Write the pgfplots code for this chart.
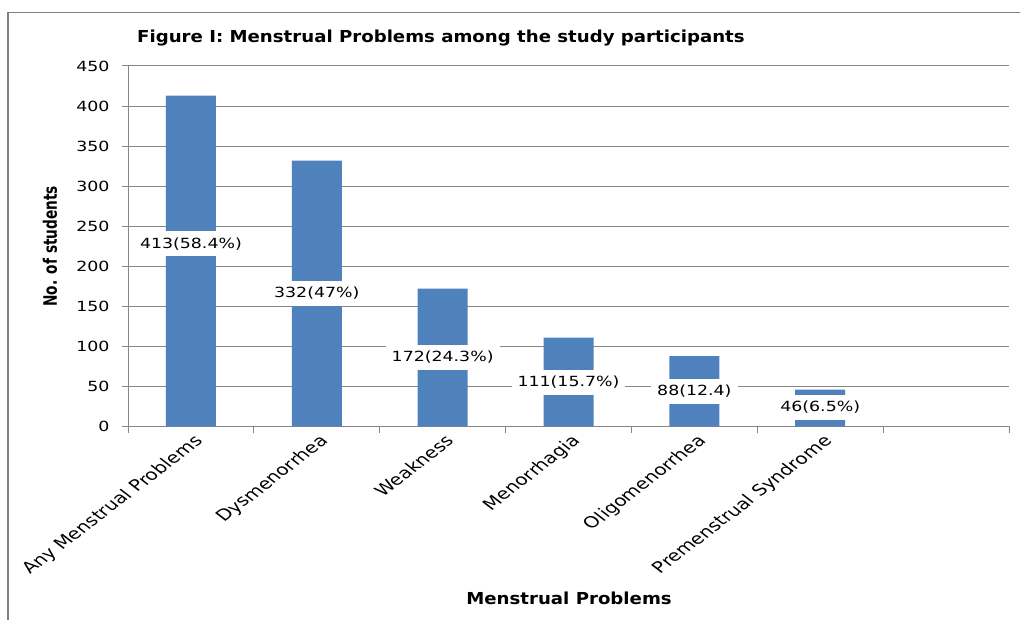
\documentclass[border=0pt]{standalone}
\usepackage{pgfplots}
\pgfplotsset{compat=1.18}
\usepackage{fontspec}
\setmainfont{DejaVu Sans}
\newfontfamily\lblfont[FakeStretch=1.24]{DejaVu Sans}
\newfontfamily\ttlfont[FakeStretch=1.1]{DejaVu Sans}
\newfontfamily\ylabfont[FakeStretch=0.74]{DejaVu Sans}

\definecolor{barblue}{RGB}{79,129,189}
\definecolor{gridgray}{RGB}{134,134,134}
\definecolor{framegray}{RGB}{128,128,128}

\begin{document}
\begin{tikzpicture}
\begin{axis}[
  at={(128bp,193.5bp)}, anchor=south west,
  scale only axis, width=881bp, height=360.5bp,
  xmin=-0.5, xmax=6.5, ymin=0, ymax=450,
  axis lines*=left,
  axis line style={gridgray, line width=1bp},
  tick style={gridgray, line width=1bp},
  tick align=outside,
  major tick length=6bp,
  ytick={0,50,...,450},
  ymajorgrids,
  major grid style={gridgray, line width=1bp},
  xtick={-0.5,0.5,...,6.5},
  xticklabels={},
  extra x ticks={0,1,2,3,4,5},
  extra x tick labels={Any Menstrual Problems, Dysmenorrhea, Weakness, Menorrhagia, Oligomenorrhea, Premenstrual Syndrome},
  extra x tick style={major tick length=0pt},
  xticklabel style={font=\fontsize{15.5bp}{17bp}\selectfont, xscale=1.3, rotate=45, anchor=north east, inner sep=2bp, yshift=-4bp, xshift=-2bp},
  yticklabel style={font=\lblfont\fontsize{14bp}{16bp}\selectfont, xshift=-9bp},
  /pgf/number format/assume math mode=true,
  title={\ttlfont\bfseries Figure I: Menstrual Problems among the study participants},
  title style={font=\fontsize{16.5bp}{19bp}\selectfont, anchor=base west, at={(axis description cs:0.0102,1.0485)}, inner sep=0pt},
  xlabel={\ttlfont\bfseries Menstrual Problems},
  xlabel style={font=\fontsize{16.5bp}{19bp}\selectfont, at={(axis description cs:0.5006,-0.477)}, anchor=center},
  ylabel={\ylabfont\bfseries No. of students},
  ylabel style={font=\fontsize{18.5bp}{20bp}\selectfont, at={(axis description cs:-0.0885,0.5)}, anchor=center},
  clip=false,
]
% bar heights: number of students per problem
\addplot[ybar, bar width=50bp, fill=barblue, draw=none] coordinates {
  (0,413) (1,332) (2,172) (3,111) (4,88) (5,46)
};
% data labels with white boxes over the bars
\addplot[draw=none, mark=none, nodes near coords, point meta=explicit symbolic,
  nodes near coords align={center},
  every node near coord/.style={fill=white, text=black, draw=none,
    font=\lblfont\fontsize{14bp}{16bp}\selectfont,
    inner xsep=6bp, minimum height=25bp, anchor=center}]
  coordinates {
  (0,228)[413(58.4\%)]
  (1,166)[332(47\%)]
  (2,86)[172(24.3\%)]
  (3,55.5)[111(15.7\%)]
  (4,44)[88(12.4)]
  (5,24)[46(6.5\%)]
};
\end{axis}
% chart frame
\draw[framegray, line width=1.5bp] (8bp,0bp) -- (8bp,607.5bp) -- (1020bp,607.5bp);
\pgfresetboundingbox
\useasboundingbox (0bp,0bp) rectangle (1020bp,620bp);
\end{tikzpicture}
\end{document}
